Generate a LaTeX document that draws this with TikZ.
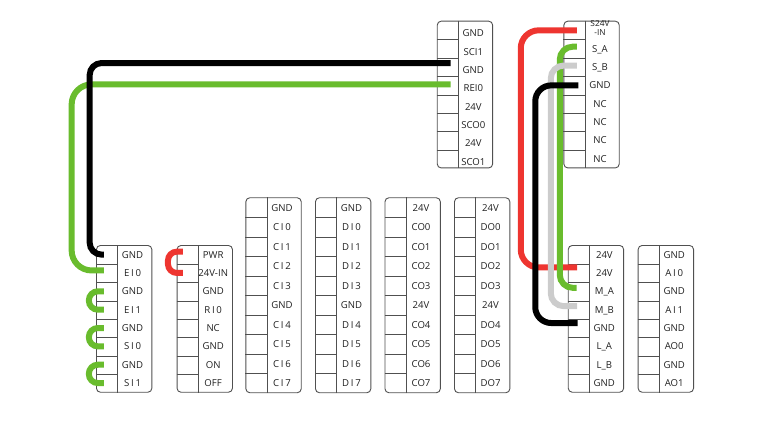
\documentclass[tikz,border=0pt]{standalone}
\usepackage{fontspec}
\setmainfont{Open Sans}
\newfontfamily\widefont[LetterSpace=18]{Open Sans}
\usetikzlibrary{matrix,positioning}
\definecolor{wirered}{HTML}{EE3530}
\definecolor{wiregreen}{HTML}{69BC2D}
\definecolor{wiregrey}{HTML}{CCCCCC}
\definecolor{framegrey}{HTML}{505050}
\definecolor{labelgrey}{HTML}{202020}
\newcommand{\wide}[1]{{\widefont #1}}
% row lines and the divider of one terminal block
\newcommand{\blocklines}[2]{
  \draw[frame] (#1-1-1.north east) -- (#1-#2-1.south east);
  \foreach \r in {1,...,#2} {
    \ifnum\r<#2 \draw[frame] (#1-\r-1.south west) -- (#1-\r-1.south east); \fi
  }
}
\tikzset{
  frame/.style={draw=framegrey,line width=0.9pt},
  wire/.style={line width=6pt,rounded corners=#1},
  wire/.default=15pt,
  block/.style={matrix of nodes,nodes in empty cells,ampersand replacement=\&,
    frame,rounded corners=4pt,inner sep=0pt,anchor=north west,
    row sep=0pt,column sep=0pt,
    nodes={anchor=center,inner sep=0pt,minimum height=#1,text height=7pt,text depth=0pt,
      font=\fontsize{9.6}{11}\selectfont,text=labelgrey,rectangle,draw=none,sharp corners},
    column 1/.style={nodes={minimum width=20.8pt}},
    column 2/.style={nodes={minimum width=34.6pt,execute at end node={\kern4pt}}}},
  block/.default=18.35pt
}
\begin{document}
\begin{tikzpicture}[x=1pt,y=-1pt]
  \useasboundingbox (0,0) rectangle (774,441);
  \matrix (EI) [block,at={(96,245)}] {
    \& GND \\
    \& \wide{EI0} \\
    \& GND \\
    \& \wide{EI1} \\
    \& GND \\
    \& \wide{SI0} \\
    \& GND \\
    \& \wide{SI1} \\
  };
  \matrix (PW) [block,at={(176.6,245)}] {
    \& PWR \\
    \& 24V-IN \\
    \& GND \\
    \& \wide{RI0} \\
    \& NC \\
    \& GND \\
    \& ON \\
    \& OFF \\
  };
  \matrix (CI) [block=19.5pt,at={(245.4,197.3)}] {
    \& GND \\
    \& \wide{CI0} \\
    \& \wide{CI1} \\
    \& \wide{CI2} \\
    \& \wide{CI3} \\
    \& GND \\
    \& \wide{CI4} \\
    \& \wide{CI5} \\
    \& \wide{CI6} \\
    \& \wide{CI7} \\
  };
  \matrix (DI) [block=19.5pt,at={(315,197.3)}] {
    \& GND \\
    \& \wide{DI0} \\
    \& \wide{DI1} \\
    \& \wide{DI2} \\
    \& \wide{DI3} \\
    \& GND \\
    \& \wide{DI4} \\
    \& \wide{DI5} \\
    \& \wide{DI6} \\
    \& \wide{DI7} \\
  };
  \matrix (CO) [block=19.5pt,at={(384.5,197.3)}] {
    \& 24V \\
    \& CO0 \\
    \& CO1 \\
    \& CO2 \\
    \& CO3 \\
    \& 24V \\
    \& CO4 \\
    \& CO5 \\
    \& CO6 \\
    \& CO7 \\
  };
  \matrix (DO) [block=19.5pt,at={(454,197.3)}] {
    \& 24V \\
    \& DO0 \\
    \& DO1 \\
    \& DO2 \\
    \& DO3 \\
    \& 24V \\
    \& DO4 \\
    \& DO5 \\
    \& DO6 \\
    \& DO7 \\
  };
  \matrix (SC) [block,nodes={text height=13pt},at={(436.8,20.7)}] {
    \& GND \\
    \& SCI1 \\
    \& GND \\
    \& REI0 \\
    \& 24V \\
    \& SCO0 \\
    \& 24V \\
    \& SCO1 \\
  };
  \matrix (SA) [block,at={(563.4,20.7)}] {
    \& \raisebox{-2pt}{\fontsize{8.3}{6.6}\selectfont\shortstack{S24V\\-IN}} \\
    \& S\_A \\
    \& S\_B \\
    \& GND \\
    \& NC \\
    \& NC \\
    \& NC \\
    \& NC \\
  };
  \matrix (MA) [block,at={(567.8,245)}] {
    \& 24V \\
    \& 24V \\
    \& M\_A \\
    \& M\_B \\
    \& GND \\
    \& L\_A \\
    \& L\_B \\
    \& GND \\
  };
  \matrix (AI) [block,at={(637.7,245)}] {
    \& GND \\
    \& \wide{AI0} \\
    \& GND \\
    \& \wide{AI1} \\
    \& GND \\
    \& AO0 \\
    \& GND \\
    \& AO1 \\
  };
  \blocklines{EI}{8}
  \blocklines{PW}{8}
  \blocklines{CI}{10}
  \blocklines{DI}{10}
  \blocklines{CO}{10}
  \blocklines{DO}{10}
  \blocklines{SC}{8}
  \blocklines{SA}{8}
  \blocklines{MA}{8}
  \blocklines{AI}{8}
  % long runs
  \draw[wire=20pt,wiregreen] ([xshift=3pt,yshift=1pt]SC-4-1.center) -- ++(-379,0) |- ([xshift=-3pt,yshift=2.5pt]EI-2-1.center);
  \draw[wire=12pt,black] ([xshift=3pt,yshift=4pt]SC-3-1.center) -- ++(-361,0) |- ([xshift=-3pt]EI-1-1.center);
  % hooks
  \draw[wire=9pt,wiregreen] ([xshift=-3pt]EI-3-1.center) -- ++(-15,0) |- ([xshift=-3pt]EI-4-1.center);
  \draw[wire=9pt,wiregreen] ([xshift=-3pt]EI-5-1.center) -- ++(-15,0) |- ([xshift=-3pt]EI-6-1.center);
  \draw[wire=9pt,wiregreen] ([xshift=-3pt]EI-7-1.center) -- ++(-15,0) |- ([xshift=-3pt]EI-8-1.center);
  \draw[wire=9pt,wirered] ([xshift=-4.5pt,yshift=3pt]PW-1-1.center) -- ++(-15,0) |- ([xshift=-4.5pt]PW-2-1.center);
  % motor side
  \draw[wire=18pt,wirered] ([xshift=2.5pt]SA-1-1.center) -- ++(-56,0) |- ([xshift=-1.5pt,yshift=5.5pt]MA-2-1.center);
  \draw[wire=13pt,wiregreen] ([xshift=2.5pt,yshift=2pt]SA-2-1.center) -- ++(-17,0) |- ([xshift=-2pt,yshift=3.5pt]MA-3-1.center);
  \draw[wire=13pt,wiregrey] ([xshift=2.5pt,yshift=1.5pt]SA-3-1.center) -- ++(-26,0) |- ([xshift=-1.5pt,yshift=3.5pt]MA-4-1.center);
  \draw[wire=16pt,black] ([xshift=4pt]SA-4-1.center) -- ++(-43,0) |- ([xshift=-1pt,yshift=5pt]MA-5-1.center);
\end{tikzpicture}
\end{document}
